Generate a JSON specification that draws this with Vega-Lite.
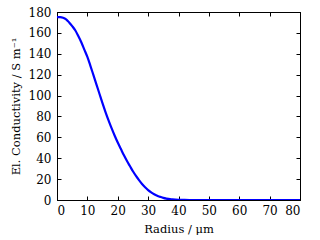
{
  "$schema": "https://vega.github.io/schema/vega-lite/v6.json",
  "width": 243,
  "height": 188,
  "autosize": {"type": "none"},
  "padding": {"left": 57, "top": 12, "right": 20, "bottom": 40},
  "background": "white",
  "config": {
    "view": {"stroke": "black", "strokeWidth": 1},
    "font": "DejaVu Serif",
    "axis": {
      "grid": false,
      "domainColor": "black",
      "tickColor": "black",
      "tickSize": -4,
      "labelFont": "DejaVu Serif",
      "titleFont": "DejaVu Serif",
      "labelFontSize": 12,
      "titleFontSize": 11.5,
      "titleFontWeight": "normal",
      "labelColor": "black",
      "titleColor": "black"
    }
  },
  "data": {
    "values": [
      {"r": 0, "s": 175}, {"r": 1, "s": 175}, {"r": 2, "s": 174.5}, {"r": 3, "s": 173},
      {"r": 4, "s": 170}, {"r": 5, "s": 166.5}, {"r": 6, "s": 162.5}, {"r": 7, "s": 157},
      {"r": 8, "s": 151}, {"r": 9, "s": 144}, {"r": 10, "s": 137}, {"r": 11, "s": 128.5},
      {"r": 12, "s": 119.5}, {"r": 13, "s": 110.5}, {"r": 14, "s": 101.5}, {"r": 15, "s": 92.5},
      {"r": 16, "s": 84}, {"r": 17, "s": 76}, {"r": 18, "s": 68.5}, {"r": 19, "s": 61.5},
      {"r": 20, "s": 55}, {"r": 21, "s": 49}, {"r": 22, "s": 43}, {"r": 23, "s": 37.5},
      {"r": 24, "s": 32.5}, {"r": 25, "s": 27.5}, {"r": 26, "s": 23}, {"r": 27, "s": 19},
      {"r": 28, "s": 15.3}, {"r": 29, "s": 12.2}, {"r": 30, "s": 9.5}, {"r": 31, "s": 7.3},
      {"r": 32, "s": 5.5}, {"r": 33, "s": 4.1}, {"r": 34, "s": 3}, {"r": 35, "s": 2},
      {"r": 36, "s": 1.3}, {"r": 38, "s": 0.6}, {"r": 40, "s": 0.2}, {"r": 42, "s": 0.05},
      {"r": 45, "s": 0}, {"r": 50, "s": 0}, {"r": 55, "s": 0}, {"r": 60, "s": 0},
      {"r": 65, "s": 0}, {"r": 70, "s": 0}, {"r": 75, "s": 0}, {"r": 80, "s": 0}
    ]
  },
  "layer": [
    {
      "mark": {"type": "line", "color": "#0000ff", "strokeWidth": 2.2, "clip": true, "interpolate": "monotone"},
      "encoding": {
        "x": {
          "field": "r", "type": "quantitative",
          "scale": {"domain": [0, 80], "nice": false},
          "axis": {"title": "Radius / μm", "values": [0,10,20,30,40,50,60,70,80], "labelPadding": 9, "titleY": 29, "titleBaseline": "middle"}
        },
        "y": {
          "field": "s", "type": "quantitative",
          "scale": {"domain": [0, 180], "nice": false},
          "axis": {"title": "El. Conductivity / S m⁻¹", "values": [0,20,40,60,80,100,120,140,160,180], "labelPadding": 10, "titleX": -41, "titleBaseline": "middle"}
        }
      }
    },
    {
      "mark": {"type": "line", "opacity": 0},
      "encoding": {
        "x": {
          "field": "r", "type": "quantitative",
          "scale": {"domain": [0, 80], "nice": false},
          "axis": {"orient": "top", "title": null, "labels": false, "values": [0,10,20,30,40,50,60,70,80]}
        },
        "y": {
          "field": "s", "type": "quantitative",
          "scale": {"domain": [0, 180], "nice": false},
          "axis": {"orient": "right", "title": null, "labels": false, "values": [0,20,40,60,80,100,120,140,160,180]}
        }
      }
    }
  ],
  "resolve": {"axis": {"x": "independent", "y": "independent"}}
}
